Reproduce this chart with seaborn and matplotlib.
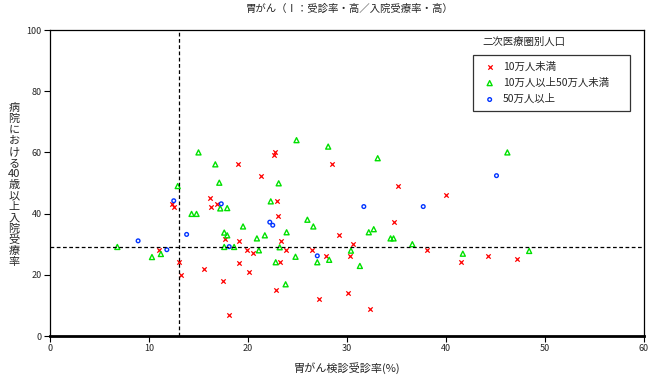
import numpy as np
import pandas as pd
import matplotlib
matplotlib.use("Agg")
import matplotlib.pyplot as plt
import seaborn as sns

# 二次医療圏別人口ごとの点 (受診率, 入院受療率)
small_x = [12.3, 12.5, 16.2, 16.3, 16.9, 17.7, 19.1, 11.0, 13.0, 13.2, 15.6, 17.5,
           18.1, 19.1, 19.0, 21.3, 22.7, 22.6, 28.5, 35.2, 40.0, 41.5, 44.2, 47.2,
           22.9, 23.0, 34.7, 23.3, 29.2, 30.6, 19.9, 20.5, 23.8, 26.5, 30.3, 27.9,
           23.2, 20.1, 22.8, 30.1, 27.2, 32.3, 38.1]
small_y = [43.0, 42.0, 45.0, 42.0, 43.1, 31.8, 31.0, 28.0, 24.1, 19.9, 22.0, 18.1,
           6.9, 24.0, 56.1, 52.2, 60.1, 59.2, 56.1, 49.1, 46.1, 24.1, 26.0, 25.1,
           44.0, 39.1, 37.2, 30.9, 33.0, 30.0, 28.0, 27.0, 28.0, 28.0, 26.0, 26.0,
           24.1, 20.9, 15.0, 13.9, 12.0, 8.9, 28.0]

mid_x = [12.9, 17.1, 17.2, 17.9, 14.3, 14.8, 17.6, 17.9, 6.8, 10.3, 11.2, 17.6,
         18.6, 15.0, 16.7, 23.1, 24.9, 28.1, 33.1, 46.2, 41.7, 48.4, 22.3, 19.5,
         26.0, 26.6, 23.9, 21.7, 20.9, 32.2, 32.7, 34.4, 34.7, 36.6, 21.1, 23.2,
         30.4, 28.2, 24.8, 22.8, 27.0, 31.3, 23.8]
mid_y = [49.0, 50.1, 41.7, 41.8, 39.9, 39.9, 33.8, 32.9, 29.1, 25.8, 26.8, 29.1,
         29.1, 60.0, 56.1, 49.9, 64.0, 61.9, 58.1, 60.0, 26.9, 27.8, 44.0, 35.8,
         38.0, 35.8, 33.9, 32.9, 31.9, 33.9, 34.9, 31.9, 31.9, 30.0, 28.0, 29.0,
         27.9, 24.9, 25.9, 24.1, 24.1, 22.9, 16.9]

large_x = [12.5, 17.3, 13.8, 8.9, 11.8, 18.1, 45.1, 31.7, 37.7, 22.2, 22.5, 27.0]
large_y = [44.2, 43.2, 33.2, 31.1, 28.2, 29.2, 52.4, 42.3, 42.3, 37.2, 36.2, 26.2]

groups = ["10万人未満", "10万人以上50万人未満", "50万人以上"]
x_ticks = [0, 10, 20, 30, 40, 50, 60]
y_ticks = [0, 20, 40, 60, 80, 100]
x_ref = 13.0
y_ref = 29.0

df = pd.concat([
    pd.DataFrame({"x": small_x, "y": small_y, "group": groups[0]}),
    pd.DataFrame({"x": mid_x, "y": mid_y, "group": groups[1]}),
    pd.DataFrame({"x": large_x, "y": large_y, "group": groups[2]}),
])

sns.set_style("white")
plt.rcParams["font.family"] = ["Noto Sans CJK JP", "DejaVu Sans"]

fig = plt.figure(figsize=(6.52, 3.76), dpi=100)
ax = fig.add_axes([50 / 652, 40 / 376, 594 / 652, 306 / 376])

styles = {
    groups[0]: dict(marker="x", color="#ff0000", s=10, linewidth=0.9),
    groups[1]: dict(marker="^", facecolor="none", edgecolor="#00e000", s=13, linewidth=1.0),
    groups[2]: dict(marker="o", facecolor="none", edgecolor="#0033ff", s=7, linewidth=1.0),
}
for g in groups:
    sub = df[df["group"] == g]
    sns.scatterplot(data=sub, x="x", y="y", ax=ax, label=g, **styles[g])

ax.axvline(x_ref, color="black", linestyle=(0, (3, 2)), linewidth=0.9, zorder=1)
ax.axhline(y_ref, color="black", linestyle=(0, (3, 2)), linewidth=0.9, zorder=1)

ax.set_xlim(0, 60)
ax.set_ylim(0, 100)
ax.set_xticks(x_ticks)
ax.set_yticks(y_ticks)
ax.tick_params(axis="both", labelsize=6.5, length=4, width=0.8, direction="out",
               color="black", bottom=True, left=True, pad=2)
for side, sp in ax.spines.items():
    sp.set_color("black")
    sp.set_linewidth(0.9)
ax.spines["bottom"].set_linewidth(2.0)

ax.set_xlabel("胃がん検診受診率(%)", fontsize=8, labelpad=6)
ax.set_ylabel("")
# y label: upright characters stacked vertically
ylab_chars = ["病", "院", "に", "お", "け", "る", "40", "歳", "以", "上", "入", "院", "受", "療", "率"]
for i, ch in enumerate(ylab_chars):
    fig.text(14 / 652, 1 - (108 + 11 * i) / 376, ch, fontsize=8,
             ha="center", va="center")

fig.text(350 / 652, 1 - 9 / 376, "胃がん（Ⅰ：受診率・高／入院受療率・高）",
         fontsize=7.5, ha="center", va="center")

ax.text((482 - 50) / 594, (336 - 42) / 306, "二次医療圏別人口", transform=ax.transAxes,
        fontsize=7.5, ha="left", va="center")
x0 = (473 - 50) / 594
y0 = (336 - 113) / 306
leg = ax.legend(loc="upper left", bbox_to_anchor=(x0, y0, (630 - 473) / 594, (113 - 55) / 306),
                mode="expand", frameon=True, fancybox=False, edgecolor="black", fontsize=7.5,
                handletextpad=0.3, labelspacing=0.6, borderpad=0.6, handlelength=2.0,
                borderaxespad=0)
leg.get_frame().set_linewidth(0.9)

fig.savefig("out.png", dpi=100)
